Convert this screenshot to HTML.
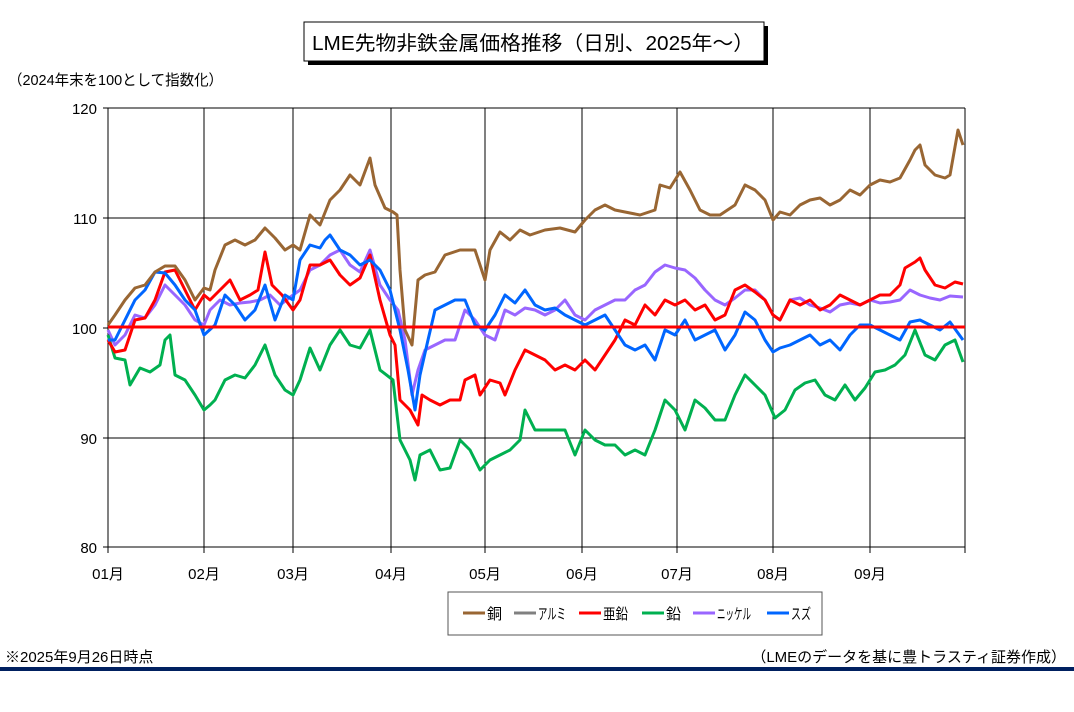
<!DOCTYPE html>
<html><head><meta charset="utf-8"><style>
body{margin:0;background:#fff;width:1074px;height:707px;overflow:hidden;font-family:"Liberation Sans","Noto Sans CJK JP",sans-serif;}
</style></head><body>
<svg width="1074" height="707" xmlns="http://www.w3.org/2000/svg" style="font-family:'Liberation Sans','Noto Sans CJK JP',sans-serif">
<rect x="308" y="26" width="460" height="39" fill="#000"/>
<rect x="304" y="22" width="460" height="39" fill="#fff" stroke="#000" stroke-width="1"/>
<text x="312" y="50" font-size="20" fill="#000" textLength="442" lengthAdjust="spacingAndGlyphs">LME先物非鉄金属価格推移（日別、2025年～）</text>
<text x="8" y="85" font-size="15" fill="#000" textLength="215" lengthAdjust="spacingAndGlyphs">（2024年末を100として指数化）</text>
<g stroke="#000" stroke-width="1" fill="none">
<line x1="108" y1="108" x2="965" y2="108"/><line x1="108" y1="218" x2="965" y2="218"/><line x1="108" y1="438" x2="965" y2="438"/>
<line x1="204" y1="108" x2="204" y2="547"/><line x1="293" y1="108" x2="293" y2="547"/><line x1="391" y1="108" x2="391" y2="547"/><line x1="485" y1="108" x2="485" y2="547"/><line x1="582" y1="108" x2="582" y2="547"/><line x1="677" y1="108" x2="677" y2="547"/><line x1="773" y1="108" x2="773" y2="547"/><line x1="870" y1="108" x2="870" y2="547"/><line x1="965" y1="108" x2="965" y2="547"/>
<line x1="108" y1="108" x2="108" y2="547"/><line x1="108" y1="547" x2="965" y2="547"/>
<path d="M103 108H108M103 218H108M103 328H108M103 438H108M103 547H108M108 547V553M204 547V553M293 547V553M391 547V553M485 547V553M582 547V553M677 547V553M773 547V553M870 547V553M965 547V553"/>
</g>
<g font-size="15" fill="#000" text-anchor="end">
<text x="97" y="114">120</text><text x="97" y="224">110</text><text x="97" y="334">100</text><text x="97" y="444">90</text><text x="97" y="553">80</text>
</g>
<g font-size="15" fill="#000" text-anchor="middle">
<text x="108" y="579">01月</text><text x="204" y="579">02月</text><text x="293" y="579">03月</text><text x="391" y="579">04月</text><text x="485" y="579">05月</text><text x="582" y="579">06月</text><text x="677" y="579">07月</text><text x="773" y="579">08月</text><text x="870" y="579">09月</text>
</g>
<g fill="none" stroke-width="3" stroke-linejoin="round">
<polyline stroke="#9966ff" points="108,330 115,345 125,335 135,315 145,318 155,305 165,285 175,295 185,305 195,320 204,325 210,310 220,300 230,305 240,303 250,302 260,300 270,295 280,305 293,295 300,290 310,270 320,265 330,255 340,250 350,265 360,272 370,250 380,285 390,300 398,310 405,340 412,395 418,370 425,350 435,345 445,340 455,340 465,310 475,320 485,335 495,340 505,310 515,315 525,308 535,310 545,315 555,310 565,300 575,315 585,320 595,310 605,305 615,300 625,300 635,290 645,285 655,272 665,265 675,268 685,270 695,278 705,290 715,300 725,305 735,298 745,290 755,290 765,300 773,315 780,320 790,300 800,298 810,305 820,308 830,312 840,305 850,303 860,305 870,300 880,303 890,302 900,300 910,290 920,295 930,298 940,300 950,296 963,297"/>
<polyline stroke="#00b050" points="108,335 115,358 125,360 130,385 140,368 150,372 160,365 165,340 170,335 175,375 185,380 195,395 204,410 210,405 215,400 225,380 235,375 245,378 255,365 265,345 275,375 285,390 293,395 300,380 310,348 320,370 330,345 340,330 350,345 360,348 370,330 380,370 393,380 400,440 410,460 415,480 420,455 430,450 440,470 450,468 460,440 470,450 480,470 490,460 500,455 510,450 520,440 525,410 535,430 545,430 555,430 565,430 575,455 585,430 595,440 605,445 615,445 625,455 635,450 645,455 655,430 665,400 675,410 685,430 695,400 705,408 715,420 725,420 735,395 745,375 755,385 765,395 775,418 785,410 795,390 805,383 815,380 825,395 835,400 845,385 855,400 865,388 875,372 885,370 895,365 905,355 915,330 925,355 935,360 945,345 955,340 963,362"/>
<polyline stroke="#ff0000" points="108,340 115,352 125,350 135,320 145,318 155,300 165,272 175,270 185,290 195,310 204,295 210,300 220,290 230,280 240,300 250,295 258,290 265,252 272,285 282,295 293,310 300,300 310,265 320,265 330,260 340,275 350,285 360,278 370,255 380,300 390,335 395,345 400,400 410,410 418,425 422,395 430,400 440,405 450,400 460,400 465,380 475,375 480,395 490,380 500,383 505,395 515,370 525,350 535,355 545,360 555,370 565,365 575,370 585,360 595,370 605,355 615,340 625,320 635,325 645,305 655,315 665,300 675,305 685,300 695,310 705,305 715,320 725,315 735,290 745,285 755,292 765,300 773,315 780,320 790,300 800,305 810,300 820,310 830,305 840,295 850,300 860,305 870,300 880,295 890,295 900,285 905,268 915,262 920,258 925,270 935,285 945,288 955,282 963,284"/>
<polyline stroke="#0066ff" points="108,340 115,340 125,320 135,300 145,290 155,272 165,273 175,285 185,300 195,310 204,335 215,325 225,295 235,305 245,320 255,310 265,285 275,320 285,295 293,300 300,260 310,245 320,248 325,240 330,235 340,250 350,255 360,265 370,260 380,270 390,290 400,330 408,370 415,410 420,375 428,340 435,310 445,305 455,300 465,300 475,325 485,330 495,315 505,295 515,303 525,290 535,305 545,310 555,308 565,315 575,320 585,325 595,320 605,315 615,330 625,345 635,350 645,345 655,360 665,330 675,335 685,320 695,340 705,335 715,330 725,350 735,335 745,312 755,320 765,340 773,352 780,348 790,345 800,340 810,335 820,345 830,340 840,350 850,335 860,325 870,325 880,330 890,335 900,340 910,322 920,320 930,325 940,330 950,322 963,340"/>
<polyline stroke="#996633" points="108,325 115,315 125,300 135,288 145,285 155,272 165,266 175,266 185,280 195,300 204,288 210,290 215,270 225,245 235,240 245,245 255,240 265,228 275,238 285,250 293,245 300,250 310,215 320,225 330,200 340,190 350,175 360,185 370,158 375,185 385,208 393,212 397,215 400,270 405,330 412,345 418,280 425,275 435,272 445,255 460,250 475,250 485,280 490,250 500,232 510,240 520,230 530,235 545,230 560,228 575,232 585,220 595,210 605,205 615,210 625,212 640,215 655,210 660,185 670,188 680,172 690,190 700,210 710,215 720,215 735,205 745,185 755,190 765,200 773,220 780,212 790,215 800,205 810,200 820,198 830,205 840,200 850,190 860,195 870,185 880,180 890,182 900,178 910,160 915,150 920,145 925,165 935,175 945,178 950,175 958,130 963,145"/>
</g>
<line x1="108" y1="327" x2="965" y2="327" stroke="#ff0000" stroke-width="3"/>
<rect x="448" y="592" width="374" height="43" fill="#fff" stroke="#555" stroke-width="1"/>
<g stroke-width="3">
<line x1="463" y1="613" x2="485" y2="613" stroke="#996633"/>
<line x1="514" y1="613" x2="536" y2="613" stroke="#808080"/>
<line x1="579" y1="613" x2="601" y2="613" stroke="#ff0000"/>
<line x1="642" y1="613" x2="664" y2="613" stroke="#00b050"/>
<line x1="693" y1="613" x2="715" y2="613" stroke="#9966ff"/>
<line x1="767" y1="613" x2="789" y2="613" stroke="#0066ff"/>
</g>
<g font-size="15" fill="#000" lengthAdjust="spacingAndGlyphs">
<text x="487" y="619">銅</text>
<text x="538" y="619" textLength="28" lengthAdjust="spacingAndGlyphs">アルミ</text>
<text x="603" y="619" textLength="25" lengthAdjust="spacingAndGlyphs">亜鉛</text>
<text x="666" y="619">鉛</text>
<text x="717" y="619" textLength="34" lengthAdjust="spacingAndGlyphs">ニッケル</text>
<text x="791" y="619" textLength="20" lengthAdjust="spacingAndGlyphs">スズ</text>
</g>
<text x="5" y="662" font-size="15" fill="#000">※2025年9月26日時点</text>
<text x="1066" y="662" font-size="15" fill="#000" text-anchor="end">（LMEのデータを基に豊トラスティ証券作成）</text>
<rect x="0" y="667" width="1074" height="4" fill="#002060"/>
</svg>
</body></html>
